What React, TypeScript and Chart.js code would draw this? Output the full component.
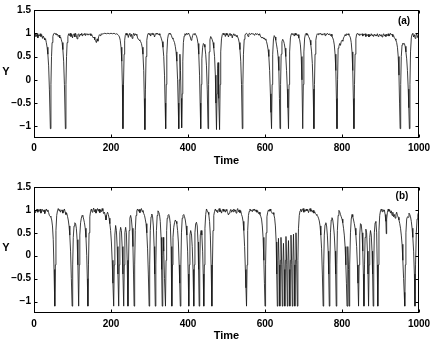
import { useEffect, useRef } from 'react';
import { Chart, registerables } from 'chart.js';

Chart.register(...registerables);

const xTicks = [0, 200, 400, 600, 800, 1000];
const yTicks = [-1, -0.5, 0, 0.5, 1, 1.5];
const xLabel = 'Time';
const yLabel = 'Y';
const panelLabels = ['(a)', '(b)'];

// [time, Y]
const seriesA: [number, number][] = [
  [0,0.96],[2,0.92],[4,0.98],[6,0.93],[8,0.99],[10,0.9],[12,0.96],[14,0.94],[16,0.99],[18,0.93],[20,0.97],[22,0.89],[24,0.94],[26,0.9],[28,0.86],[30,0.88],[32,0.8],[34,0.7],[36,0.55],[38,0.3],[40,-0.2],[42.5,-1.05],[44,-0.1],[45.5,0.5],[47,0.8],[49,0.93],[51,0.99],[53,1.0],[55,0.98],[57,1.0],[59,0.96],[61,0.98],[63,0.93],[65,0.96],[67,0.9],[69,0.92],[71,0.86],[73,0.8],[75,0.65],[77,0.4],[79,-0.1],[81.5,-1.05],[83,-0.1],[84.5,0.5],[86,0.8],[88,0.93],[90,0.99],[92,0.95],[94,1.0],[96,0.93],[98,0.98],[100,0.9],[102,0.97],[104,0.99],[106,0.92],[108,1.0],[110,0.95],[112,0.88],[114,0.97],[116,0.99],[118,0.93],[120,0.98],[122,0.96],[124,1.0],[126,0.94],[128,0.98],[130,0.97],[132,1.0],[134,0.95],[136,0.99],[138,0.97],[140,0.99],[142,0.96],[144,0.98],[146,0.99],[148,0.95],[150,0.97],[152,0.93],[154,0.9],[156,0.92],[158,0.86],[160,0.84],[162,0.8],[164,0.88],[166,0.83],[168,0.93],[170,0.97],[172,0.95],[174,0.99],[176,0.98],[180,0.99],[184,1.0],[188,0.99],[192,1.0],[196,0.99],[200,1.0],[204,0.99],[208,1.0],[212,0.98],[215,0.99],[218,0.97],[220,0.95],[222,0.92],[224,0.85],[226,0.7],[228,0.4],[229.5,-0.1],[231,-1.05],[232.5,-0.1],[234,0.55],[235.5,0.85],[237,0.95],[239,1.0],[241,0.96],[243,0.99],[245,0.91],[247,0.98],[249,1.0],[251,0.93],[253,0.98],[255,0.89],[257,0.96],[259,1.0],[261,0.95],[263,0.99],[265,0.96],[267,0.98],[269,0.9],[271,0.87],[273,0.86],[275,0.84],[277,0.82],[279,0.78],[281,0.7],[283,0.55],[285,0.2],[286.5,-0.4],[288,-1.07],[289.5,-0.2],[291,0.5],[293,0.85],[295,0.96],[297,1.0],[299,0.97],[301,1.0],[303,0.94],[305,0.99],[307,1.0],[309,0.97],[311,0.99],[313,0.92],[315,0.97],[317,1.0],[319,0.98],[321,1.0],[323,0.97],[325,0.99],[327,0.96],[329,0.93],[331,0.88],[333,0.82],[335,0.7],[337,0.5],[339,0.1],[340.5,-0.5],[342,-1.05],[343.5,-0.1],[345,0.55],[347,0.88],[349,0.97],[351,1.0],[353,0.98],[355,0.99],[357,0.95],[359,0.9],[361,0.88],[363,0.84],[365,0.8],[367,0.72],[369,0.6],[371,0.4],[373,0.0],[374.5,-0.5],[376,-1.05],[377.5,0.0],[379,0.55],[380.5,0.2],[382,-0.4],[383.5,-1.03],[385,-0.3],[386.5,0.4],[388,0.8],[390,0.94],[392,0.99],[394,0.96],[396,1.0],[398,0.97],[400,1.0],[402,0.99],[404,0.96],[406,0.92],[408,0.85],[410,0.88],[412,0.95],[414,0.99],[416,0.97],[418,1.0],[420,0.97],[422,0.94],[424,0.88],[426,0.78],[428,0.55],[430,0.1],[431.5,-0.5],[433,-1.05],[434.5,-0.1],[436,0.45],[438,0.7],[440,0.78],[442,0.76],[444,0.7],[446,0.55],[448,0.3],[450,-0.2],[452,-1.05],[453.5,-0.1],[455,0.6],[457,0.86],[459,0.93],[461,0.9],[463,0.86],[465,0.8],[467,0.68],[469,0.5],[471,0.1],[472.5,-0.5],[474,-1.07],[475.5,-0.3],[477,0.25],[478,0.37],[479,0.2],[480.5,-0.4],[482,-1.07],[483.5,-0.1],[485,0.6],[487,0.88],[489,0.97],[491,1.0],[493,0.97],[495,0.99],[497,0.93],[499,1.0],[501,0.96],[503,0.99],[505,0.92],[507,0.97],[509,1.0],[511,0.95],[513,0.98],[515,0.9],[517,0.97],[519,0.99],[521,0.95],[523,0.97],[525,0.93],[527,0.96],[529,0.92],[531,0.88],[533,0.8],[535,0.65],[537,0.4],[539,-0.1],[541,-1.05],[542.5,-0.1],[544,0.55],[546,0.87],[548,0.96],[550,0.99],[552,1.0],[554,0.98],[556,0.93],[558,0.99],[560,1.0],[562,0.97],[564,0.99],[566,1.0],[568,0.98],[570,0.99],[572,0.96],[574,0.98],[576,1.0],[578,0.97],[580,0.99],[582,0.98],[584,0.96],[586,0.99],[588,0.94],[590,0.91],[592,0.9],[594,0.92],[596,0.88],[598,0.9],[600,0.86],[602,0.88],[604,0.82],[606,0.75],[608,0.65],[610,0.5],[612,0.2],[614,-0.3],[615.5,-0.7],[617,-1.05],[618.5,-0.1],[620,0.55],[622,0.88],[624,0.95],[626,0.92],[628,0.85],[630,0.75],[632,0.65],[634,0.5],[636,0.2],[637.5,-0.4],[639,-1.05],[640.5,-0.1],[642,0.55],[644,0.82],[646,0.87],[648,0.84],[650,0.78],[652,0.68],[654,0.5],[656,0.2],[658,-0.2],[659.5,-0.6],[661,-1.05],[662.5,-0.1],[664,0.6],[666,0.9],[668,0.98],[670,1.0],[672,0.97],[674,0.99],[676,0.94],[678,1.0],[680,0.96],[682,0.99],[684,0.95],[686,0.97],[688,0.9],[690,0.86],[692,0.75],[694,0.5],[696,0.0],[698,-1.05],[699.5,-0.1],[701,0.6],[703,0.9],[705,0.98],[707,1.0],[709,0.96],[711,0.98],[713,0.93],[715,0.9],[717,0.85],[719,0.75],[721,0.6],[723,0.35],[725,-0.2],[727,-1.05],[728.5,-0.1],[730,0.55],[732,0.85],[734,0.95],[736,0.99],[738,0.97],[740,1.0],[742,0.98],[744,1.0],[746,0.97],[748,0.99],[750,0.96],[752,0.98],[754,1.0],[756,0.95],[758,0.99],[760,0.97],[762,1.0],[764,0.98],[766,0.97],[768,0.99],[770,0.95],[772,0.98],[774,0.93],[776,0.9],[778,0.85],[780,0.75],[782,0.55],[784,0.2],[785.5,-0.4],[787,-1.05],[788.5,0.0],[790,0.68],[792,0.72],[794,0.78],[796,0.74],[798,0.82],[800,0.85],[802,0.83],[804,0.9],[806,0.93],[808,0.97],[810,0.95],[812,0.99],[814,0.97],[816,0.99],[818,0.96],[820,0.94],[822,0.9],[824,0.8],[826,0.6],[828,0.2],[829.5,-0.4],[831,-1.05],[832.5,-0.1],[834,0.55],[836,0.88],[838,0.98],[840,1.0],[842,0.97],[844,0.99],[846,0.95],[848,0.98],[850,0.97],[852,0.99],[854,0.94],[856,0.98],[858,0.96],[860,0.99],[862,0.93],[864,0.97],[866,0.95],[868,0.98],[870,0.92],[872,0.97],[874,0.94],[876,0.99],[878,0.95],[880,0.97],[882,0.93],[884,0.98],[886,0.95],[888,0.97],[890,0.94],[892,0.99],[894,0.93],[896,0.96],[898,0.98],[900,0.94],[902,0.97],[904,0.92],[906,0.96],[908,0.99],[910,0.94],[912,0.97],[914,0.93],[916,0.98],[918,0.95],[920,0.99],[922,0.94],[924,0.97],[926,1.0],[928,0.96],[930,0.98],[932,0.93],[934,0.95],[936,0.9],[938,0.88],[940,0.85],[942,0.8],[944,0.7],[946,0.5],[948,0.1],[949.5,-0.5],[951,-1.05],[952.5,-0.1],[954,0.5],[956,0.75],[958,0.79],[960,0.77],[962,0.78],[964,0.72],[966,0.6],[968,0.45],[970,0.2],[972,-0.2],[973.5,-0.6],[975,-1.05],[976.5,-0.1],[978,0.6],[980,0.9],[982,0.98],[984,1.0],[986,0.92],[988,0.97],[990,0.89],[992,0.96],[994,0.99],[996,0.91],[998,0.95],[1000,0.9]
];

const seriesB: [number, number][] = [
  [0,0.98],[2,1.0],[4,0.94],[6,0.99],[8,1.02],[10,0.95],[12,1.0],[14,0.97],[16,1.02],[18,0.93],[20,0.98],[22,1.01],[24,0.96],[26,1.0],[28,0.92],[30,0.98],[32,1.02],[34,0.97],[36,1.0],[38,0.94],[40,0.88],[42,0.86],[44,0.84],[46,0.78],[48,0.65],[50,0.35],[52,-0.3],[54,-1.1],[55.5,-0.2],[57,0.55],[59,0.88],[61,0.98],[63,1.03],[65,0.98],[67,1.01],[69,0.95],[71,0.99],[73,1.0],[75,0.93],[77,0.98],[79,1.02],[81,0.95],[83,0.9],[85,0.93],[87,0.86],[89,0.78],[91,0.65],[93,0.45],[95,0.1],[97,-0.5],[99,-1.1],[100.5,-0.2],[102,0.4],[104,0.65],[106,0.72],[108,0.7],[110,0.6],[112,0.35],[114,-0.2],[116,-1.1],[117.5,-0.2],[119,0.45],[121,0.72],[123,0.82],[125,0.88],[127,0.86],[129,0.8],[131,0.72],[133,0.6],[135,0.4],[137,0.0],[138.5,-0.5],[140,-1.1],[141.5,-0.2],[143,0.5],[145,0.85],[147,0.97],[149,1.02],[151,0.95],[153,1.0],[155,1.04],[157,0.96],[159,1.01],[161,0.93],[163,0.99],[165,1.03],[167,0.97],[169,1.02],[171,0.94],[173,1.0],[175,0.96],[177,1.03],[179,0.98],[181,0.92],[183,0.95],[185,0.88],[187,0.78],[189,0.9],[191,0.95],[193,0.9],[195,0.82],[197,0.7],[199,0.55],[201,0.3],[203,-0.1],[205,-0.6],[207,-1.1],[208.5,-0.2],[210,0.45],[212,0.66],[214,0.55],[216,0.2],[218,-0.4],[220,-1.1],[221.5,-0.2],[223,0.5],[225,0.62],[227,0.55],[229,0.2],[231,-0.4],[233,-1.1],[234.5,-0.2],[236,0.5],[238,0.62],[240,0.5],[242,-0.1],[244,-1.1],[245.5,-0.2],[247,0.55],[249,0.82],[251,0.88],[253,0.8],[255,0.6],[257,0.2],[258.5,-0.4],[260,-1.1],[261.5,-0.2],[263,0.55],[265,0.88],[267,0.98],[269,1.02],[271,0.97],[273,1.01],[275,0.94],[277,1.0],[279,1.03],[281,0.96],[283,0.99],[285,0.92],[287,0.88],[289,0.8],[291,0.7],[293,0.5],[295,0.15],[297,-0.4],[299,-1.1],[300.5,-0.2],[302,0.55],[304,0.85],[306,0.91],[308,0.85],[310,0.65],[312,0.2],[313.5,-0.4],[315,-1.1],[316.5,-0.2],[318,0.55],[320,0.88],[322,0.98],[324,0.95],[326,0.9],[328,0.75],[330,0.4],[331.5,-0.3],[333,-1.1],[334.5,0.0],[335.5,0.4],[337,0.1],[339,-0.5],[341.5,-1.1],[343,-0.1],[344.5,0.55],[346,0.82],[348,0.88],[350,0.9],[352,0.84],[354,0.7],[356,0.2],[358,-1.1],[359.5,-0.2],[361,0.4],[363,0.62],[365,0.72],[367,0.78],[369,0.75],[371,0.7],[373,0.55],[375,0.3],[377,-0.2],[378.5,-0.6],[380,-1.1],[381.5,-0.2],[383,0.5],[385,0.82],[387,0.88],[389,0.9],[391,0.85],[393,0.78],[395,0.65],[397,0.45],[399,0.1],[400.5,-0.4],[402,-1.1],[403.5,-0.2],[405,0.45],[407,0.55],[409,0.48],[411,0.2],[413,-0.3],[415,-1.1],[416.5,-0.2],[418,0.5],[420,0.7],[422,0.73],[424,0.65],[426,0.3],[427.5,-0.3],[429,-1.1],[430.5,-0.2],[432,0.45],[434,0.55],[436,0.45],[438,0.1],[439.5,-0.4],[441,-1.1],[442.5,-0.2],[444,0.6],[446,0.9],[448,1.02],[450,0.98],[452,0.95],[454,0.9],[456,0.75],[458,0.45],[460,-0.2],[462,-1.1],[463.5,-0.2],[465,0.55],[467,0.88],[469,0.97],[471,1.02],[473,0.97],[475,1.0],[477,0.94],[479,0.99],[481,1.03],[483,0.96],[485,1.0],[487,0.93],[489,0.98],[491,1.02],[493,0.97],[495,1.0],[497,0.95],[499,1.01],[501,0.98],[503,0.94],[505,0.89],[507,0.93],[509,0.97],[511,1.01],[513,0.95],[515,1.0],[517,0.96],[519,1.02],[521,0.97],[523,1.0],[525,0.93],[527,0.99],[529,1.03],[531,0.96],[533,1.0],[535,0.94],[537,0.98],[539,0.9],[541,0.85],[543,0.75],[545,0.55],[547,0.2],[549,-0.3],[550.5,-0.7],[552,-1.1],[553.5,-0.2],[555,0.55],[557,0.88],[559,0.97],[561,1.02],[563,0.98],[565,1.0],[567,0.96],[569,1.01],[571,0.99],[573,1.02],[575,0.97],[577,1.0],[579,0.95],[581,0.98],[583,0.92],[585,0.95],[587,0.9],[589,0.86],[591,0.8],[593,0.65],[595,0.4],[597,-0.1],[598.5,-0.6],[600,-1.1],[601.5,-0.2],[603,0.5],[605,0.85],[607,0.95],[609,1.0],[611,0.97],[613,1.02],[615,0.98],[617,0.95],[619,0.92],[621,0.94],[623,0.9],[625,0.82],[627,0.65],[629,0.3],[630.5,-0.4],[632,-1.1],[633.5,-0.1],[635,0.38],[636.8,-0.2],[638.5,-1.1],[640,-0.1],[641.5,0.4],[643.2,-0.2],[645,-1.1],[646.5,-0.2],[648,0.27],[649.8,-0.3],[651.5,-1.1],[653,-0.1],[654.5,0.42],[656.3,-0.2],[658,-1.1],[659.5,-0.1],[661,0.33],[662.8,-0.3],[664.5,-1.1],[666,-0.1],[667.5,0.45],[669.3,-0.2],[671,-1.1],[672.5,-0.1],[674,0.47],[675.8,-0.2],[677.5,-1.1],[679,-0.1],[680.5,0.5],[682.3,-0.2],[684,-1.1],[685.5,-0.1],[687,0.6],[689,0.88],[691,0.98],[693,1.02],[695,0.96],[697,1.0],[699,1.03],[701,0.95],[703,1.0],[705,0.97],[707,1.02],[709,0.98],[711,1.01],[713,0.94],[715,0.99],[717,1.03],[719,0.97],[721,1.0],[723,0.95],[725,0.99],[727,0.93],[729,0.96],[731,0.92],[733,0.9],[735,0.88],[737,0.86],[739,0.82],[741,0.76],[743,0.65],[745,0.45],[747,0.15],[749,-0.4],[751,-1.1],[752.5,-0.2],[754,0.45],[756,0.68],[758,0.72],[760,0.65],[762,0.45],[764,0.1],[765.5,-0.4],[767,-1.1],[768.5,-0.2],[770,0.5],[772,0.78],[774,0.83],[776,0.78],[778,0.65],[780,0.45],[782,0.1],[783.5,-0.4],[785,-1.1],[786.5,-0.2],[788,0.55],[790,0.88],[792,0.99],[794,0.96],[796,0.9],[798,0.85],[800,0.8],[802,0.72],[804,0.6],[806,0.45],[808,0.2],[810,-0.2],[811.5,-0.6],[813,-1.1],[814.5,-0.2],[815.5,0.2],[817,-0.3],[818.5,-1.1],[820,-0.2],[822,0.5],[824,0.8],[826,0.9],[828,0.85],[830,0.78],[832,0.7],[834,0.6],[836,0.45],[838,0.2],[840,-0.2],[841.5,-0.6],[843,-1.1],[844.5,-0.2],[846,0.45],[848,0.7],[850,0.68],[852,0.5],[854,0.1],[855.5,-0.4],[857,-1.1],[858.5,-0.2],[860,0.4],[862,0.58],[864,0.5],[866,0.1],[867.5,-0.4],[869,-1.1],[870.5,-0.2],[872,0.4],[874,0.55],[876,0.45],[878,0.1],[879.5,-0.4],[881,-1.1],[882.5,-0.2],[884,0.5],[886,0.72],[888,0.75],[890,0.5],[891.5,-0.2],[893,-1.1],[894.5,-0.2],[896,0.55],[898,0.88],[900,0.98],[902,1.02],[904,0.96],[906,1.01],[908,0.97],[910,1.0],[912,0.9],[914,0.75],[915,0.48],[916,0.8],[918,0.95],[920,1.02],[922,0.97],[924,1.0],[926,0.93],[928,0.98],[930,0.88],[932,0.95],[934,0.85],[936,0.9],[938,0.82],[940,0.9],[942,0.95],[944,0.88],[946,0.84],[948,0.78],[950,0.7],[952,0.6],[954,0.45],[956,0.25],[958,-0.1],[960,-0.5],[961.5,-0.8],[963,-1.1],[964.5,-0.2],[966,0.5],[968,0.8],[970,0.85],[972,0.84],[974,0.93],[976,0.9],[978,0.85],[980,0.75],[982,0.6],[984,0.4],[986,0.1],[988,-0.4],[989.5,-1.1],[991,-0.2],[993,0.5],[995,0.8],[997,0.9],[999,0.95],[1000,0.97]
];

const FONT = "'Liberation Sans', Arial, Helvetica, sans-serif";

const fmt = (v: number) => (v < 0 ? '\u2212' + Math.abs(v) : String(v));

const framePlugin = {
  id: 'frame',
  afterDraw(chart: any, _args: any, opts: any) {
    const { ctx, chartArea: a, scales } = chart;
    const x = scales.x;
    const y = scales.y;
    ctx.save();
    ctx.strokeStyle = '#000';
    ctx.lineWidth = 1;
    const L = Math.round(a.left) + 0.5;
    const R = Math.round(a.right) - 0.5;
    const T = Math.round(a.top) + 0.5;
    const B = Math.round(a.bottom) - 0.5;
    ctx.strokeRect(L, T, R - L, B - T);
    const tl = 3;
    ctx.beginPath();
    for (const v of xTicks) {
      const px = Math.round(x.getPixelForValue(v)) + 0.5;
      ctx.moveTo(px, B); ctx.lineTo(px, B - tl);
      ctx.moveTo(px, T); ctx.lineTo(px, T + tl);
    }
    for (const v of yTicks) {
      const py = Math.round(y.getPixelForValue(v)) + 0.5;
      ctx.moveTo(L, py); ctx.lineTo(L + tl, py);
      ctx.moveTo(R, py); ctx.lineTo(R - tl, py);
    }
    ctx.stroke();
    ctx.fillStyle = '#000';
    ctx.textAlign = 'center';
    ctx.textBaseline = 'middle';
    ctx.font = `bold 11px ${FONT}`;
    ctx.fillText(yLabel, opts.yLabelX, (a.top + a.bottom) / 2 - 2);
    ctx.font = `bold 10px ${FONT}`;
    ctx.fillText(opts.panel, opts.panelX, opts.panelY);
    ctx.restore();
  },
};

type Geom = { top: number; xHeight: number; tickPad: number; titlePad: number; panelX: number; panelY: number };

function makeConfig(series: [number, number][], panel: string, g: Geom): any {
  return {
    type: 'line',
    data: {
      datasets: [
        {
          data: series.map(([t, v]) => ({ x: t, y: v })),
          borderColor: '#1a1a1a',
          borderWidth: 0.85,
          pointRadius: 0,
          tension: 0,
          fill: false,
        },
      ],
    },
    options: {
      animation: false,
      responsive: false,
      layout: { padding: { top: g.top, right: 17, left: 0, bottom: 0 } },
      plugins: {
        legend: { display: false },
        tooltip: { enabled: false },
        frame: { panel, yLabelX: 6, panelX: g.panelX, panelY: g.panelY },
      },
      scales: {
        x: {
          type: 'linear',
          min: 0,
          max: 1000,
          grid: { display: false, drawTicks: false },
          border: { display: false },
          afterBuildTicks: (s: any) => { s.ticks = xTicks.map((v) => ({ value: v })); },
          afterFit: (s: any) => { s.height = g.xHeight; },
          ticks: {
            padding: g.tickPad,
            color: '#000',
            maxRotation: 0,
            font: { family: FONT, size: 10, weight: 'bold' },
            callback: (v: number) => fmt(v),
          },
          title: {
            display: true,
            text: xLabel,
            color: '#000',
            font: { family: FONT, size: 11, weight: 'bold' },
            padding: { top: 0, bottom: g.titlePad },
          },
        },
        y: {
          type: 'linear',
          min: -1.25,
          max: 1.5,
          grid: { display: false, drawTicks: false },
          border: { display: false },
          afterBuildTicks: (s: any) => { s.ticks = yTicks.map((v) => ({ value: v })); },
          afterFit: (s: any) => { s.width = 34; },
          ticks: {
            padding: 3,
            color: '#000',
            font: { family: FONT, size: 10, weight: 'bold' },
            callback: (v: number) => fmt(v),
          },
        },
      },
    },
    plugins: [framePlugin],
  };
}

function Panel({ series, panel, g, top }: { series: [number, number][]; panel: string; g: Geom; top: number }) {
  const ref = useRef<HTMLCanvasElement | null>(null);
  useEffect(() => {
    if (!ref.current) return;
    const chart = new Chart(ref.current, makeConfig(series, panel, g));
    return () => chart.destroy();
  }, []);
  return (
    <canvas
      ref={ref}
      width={436}
      height={172}
      style={{ position: 'absolute', left: 0, top, width: 436, height: 172, display: 'block' }}
    />
  );
}

export default function App() {
  return (
    <div style={{ position: 'absolute', left: 0, top: 0, width: 436, height: 344, background: '#fff' }}>
      <Panel
        series={seriesA}
        panel={panelLabels[0]}
        top={0}
        g={{ top: 10, xHeight: 34, tickPad: 4, titlePad: 4, panelX: 404, panelY: 21 }}
      />
      <Panel
        series={seriesB}
        panel={panelLabels[1]}
        top={172}
        g={{ top: 15, xHeight: 31, tickPad: 5, titlePad: 1, panelX: 402, panelY: 24 }}
      />
    </div>
  );
}
